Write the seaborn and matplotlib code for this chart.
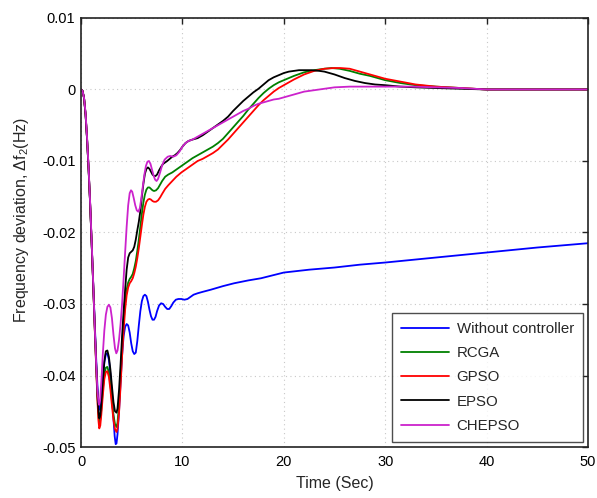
import numpy as np
import pandas as pd
import matplotlib
matplotlib.use("Agg")
import matplotlib.pyplot as plt
import seaborn as sns

# Frequency deviation of area 2 after a load disturbance, per controller tuning method
t_none = [0, 0.15, 0.3, 0.45, 0.6, 0.75, 0.9, 1.05, 1.2, 1.35, 1.5, 1.62, 1.72, 1.8, 1.9,
          2.0, 2.15, 2.3, 2.45, 2.6, 2.75, 2.9, 3.05, 3.2, 3.32, 3.42, 3.5, 3.6, 3.75, 3.9,
          4.05, 4.2, 4.35, 4.5, 4.65, 4.8, 4.95, 5.1, 5.25, 5.4, 5.55, 5.7, 5.85, 6.0, 6.15,
          6.3, 6.45, 6.6, 6.75, 6.9, 7.05, 7.2, 7.35, 7.5, 7.7, 7.9, 8.1, 8.3, 8.5, 8.7, 8.9,
          9.1, 9.35, 9.6, 9.9, 10.2, 10.5, 10.8, 11.1, 11.5, 12, 12.8, 14, 15.1, 16.5, 17.75,
          20, 22.5, 25, 27.5, 30, 35, 40, 45, 50]
f_none = [0, -0.0002, -0.0012, -0.0035, -0.0070, -0.0112, -0.0160, -0.0215, -0.0270, -0.0325,
          -0.0378, -0.0415, -0.0438, -0.0448, -0.0445, -0.0432, -0.0405, -0.0382, -0.0370,
          -0.0369, -0.0378, -0.0398, -0.0428, -0.0460, -0.0485, -0.0496, -0.0495, -0.0482,
          -0.0450, -0.0410, -0.0372, -0.0345, -0.0332, -0.0328, -0.0330, -0.0340, -0.0355,
          -0.0366, -0.0370, -0.0368, -0.0352, -0.0330, -0.0310, -0.0296, -0.0289, -0.0287,
          -0.0289, -0.0297, -0.0308, -0.0317, -0.0322, -0.0322, -0.0318, -0.0310, -0.0302,
          -0.0299, -0.0300, -0.0304, -0.0307, -0.0307, -0.0303, -0.0298, -0.0294, -0.0293,
          -0.0293, -0.0294, -0.0293, -0.0290, -0.0287, -0.0285, -0.0283, -0.0280, -0.0275,
          -0.0271, -0.0267, -0.0264, -0.0256, -0.0252, -0.0249, -0.0245, -0.0242, -0.0235,
          -0.0228, -0.0221, -0.0215]

t_rcga = [0, 0.15, 0.3, 0.45, 0.6, 0.75, 0.9, 1.05, 1.2, 1.35, 1.5, 1.62, 1.72, 1.8, 1.9,
          2.0, 2.15, 2.3, 2.45, 2.6, 2.75, 2.9, 3.05, 3.2, 3.35, 3.5, 3.6, 3.75, 3.9, 4.05,
          4.2, 4.35, 4.5, 4.65, 4.8, 4.95, 5.1, 5.25, 5.4, 5.55, 5.7, 5.85, 6.0, 6.15, 6.3,
          6.45, 6.6, 6.75, 6.9, 7.05, 7.2, 7.4, 7.6, 7.8, 8.0, 8.3, 8.6, 9.0, 9.4, 9.9, 10.4,
          11, 11.5, 12, 12.5, 13, 13.5, 14, 14.5, 15, 15.5, 16, 16.5, 17, 17.5, 18, 18.5,
          19, 19.5, 20, 21, 22, 23, 24, 24.7, 25.5, 26.5, 27.5, 28.5, 30, 31.5, 33, 35,
          37.5, 40, 45, 50]
f_rcga = [0, -0.0002, -0.0012, -0.0035, -0.0070, -0.0112, -0.0160, -0.0215, -0.0272, -0.0332,
          -0.0388, -0.0430, -0.0456, -0.0466, -0.0462, -0.0448, -0.0420, -0.0398, -0.0389,
          -0.0388, -0.0396, -0.0413, -0.0435, -0.0455, -0.0468, -0.0472, -0.0466, -0.0440,
          -0.0400, -0.0360, -0.0325, -0.0298, -0.0280, -0.0270, -0.0265, -0.0262, -0.0258,
          -0.0250, -0.0240, -0.0226, -0.0210, -0.0192, -0.0174, -0.0158, -0.0147, -0.0140,
          -0.0137, -0.0137, -0.0139, -0.0141, -0.0142, -0.0141, -0.0138, -0.0133, -0.0128,
          -0.0122, -0.0119, -0.0116, -0.0112, -0.0107, -0.0102, -0.0096, -0.0092, -0.0088,
          -0.0084, -0.0080, -0.0075, -0.0069, -0.0061, -0.0053, -0.0045, -0.0037, -0.0028,
          -0.0020, -0.0012, -0.0005, 0.0001, 0.0006, 0.0010, 0.0013, 0.0019, 0.0024, 0.0027,
          0.0029, 0.0030, 0.0029, 0.0026, 0.0022, 0.0019, 0.0013, 0.0009, 0.0006, 0.0004,
          0.0002, 0.0, 0.0, 0.0]

t_gpso = [0, 0.15, 0.3, 0.45, 0.6, 0.75, 0.9, 1.05, 1.2, 1.35, 1.5, 1.62, 1.72, 1.8, 1.9,
          2.0, 2.15, 2.3, 2.45, 2.6, 2.75, 2.9, 3.05, 3.2, 3.35, 3.5, 3.6, 3.75, 3.9, 4.05,
          4.2, 4.35, 4.5, 4.65, 4.8, 4.95, 5.1, 5.25, 5.4, 5.55, 5.7, 5.85, 6.0, 6.15, 6.3,
          6.45, 6.6, 6.75, 6.9, 7.05, 7.2, 7.4, 7.6, 7.8, 8.0, 8.3, 8.6, 9.0, 9.4, 9.9, 10.4,
          11, 11.5, 12, 12.5, 13, 13.5, 14, 14.5, 15, 15.5, 16, 16.5, 17, 17.5, 18, 18.5,
          19, 19.5, 20, 21, 22, 23, 24, 25, 25.6, 26.5, 27.5, 28.5, 30, 31.5, 33, 35, 37.5,
          40, 45, 50]
f_gpso = [0, -0.0002, -0.0012, -0.0035, -0.0070, -0.0112, -0.0160, -0.0215, -0.0272, -0.0333,
          -0.0390, -0.0435, -0.0463, -0.0474, -0.0470, -0.0455, -0.0428, -0.0405, -0.0395,
          -0.0394, -0.0402, -0.0420, -0.0442, -0.0462, -0.0475, -0.0479, -0.0474, -0.0452,
          -0.0415, -0.0373, -0.0337, -0.0308, -0.0288, -0.0277, -0.0271, -0.0268, -0.0264,
          -0.0257, -0.0248, -0.0236, -0.0222, -0.0206, -0.0190, -0.0175, -0.0164, -0.0157,
          -0.0154, -0.0153, -0.0154, -0.0156, -0.0157, -0.0157, -0.0155, -0.0151, -0.0146,
          -0.0139, -0.0134, -0.0128, -0.0122, -0.0116, -0.0111, -0.0105, -0.0100, -0.0097,
          -0.0093, -0.0089, -0.0084, -0.0077, -0.0070, -0.0062, -0.0054, -0.0046, -0.0038,
          -0.0030, -0.0022, -0.0015, -0.0009, -0.0003, 0.0002, 0.0006, 0.0014, 0.0021,
          0.0026, 0.0029, 0.0030, 0.0030, 0.0029, 0.0025, 0.0021, 0.0015, 0.0011, 0.0007,
          0.0004, 0.0002, 0.0, 0.0, 0.0]

t_epso = [0, 0.15, 0.3, 0.45, 0.6, 0.75, 0.9, 1.05, 1.2, 1.35, 1.5, 1.62, 1.72, 1.8, 1.9,
          2.0, 2.15, 2.3, 2.45, 2.6, 2.75, 2.9, 3.05, 3.2, 3.35, 3.5, 3.6, 3.75, 3.9, 4.05,
          4.2, 4.35, 4.5, 4.65, 4.8, 4.95, 5.1, 5.25, 5.4, 5.55, 5.7, 5.85, 6.0, 6.15, 6.3,
          6.45, 6.6, 6.75, 6.9, 7.05, 7.2, 7.35, 7.5, 7.7, 7.9, 8.1, 8.3, 8.5, 8.75, 9.0,
          9.25, 9.5, 9.75, 10.0, 10.3, 10.6, 11.0, 11.5, 12, 12.5, 13, 13.5, 14, 14.5, 15,
          15.5, 16, 16.5, 17, 17.5, 18, 18.5, 19, 19.5, 20, 20.5, 21, 21.5, 22, 22.7, 23.5,
          24, 25, 26, 27, 28, 29, 30, 31.5, 33, 35, 37.5, 40, 45, 50]
f_epso = [0, -0.0002, -0.0012, -0.0035, -0.0070, -0.0112, -0.0160, -0.0215, -0.0272, -0.0330,
          -0.0385, -0.0425, -0.0450, -0.0460, -0.0456, -0.0440, -0.0408, -0.0380, -0.0366,
          -0.0365, -0.0374, -0.0392, -0.0415, -0.0437, -0.0450, -0.0452, -0.0446, -0.0420,
          -0.0385, -0.0345, -0.0310, -0.0280, -0.0252, -0.0235, -0.0229, -0.0227, -0.0225,
          -0.0220, -0.0210, -0.0197, -0.0185, -0.0170, -0.0150, -0.0132, -0.0118, -0.0111,
          -0.0109, -0.0111, -0.0115, -0.0119, -0.0121, -0.0121, -0.0119, -0.0113, -0.0108,
          -0.0104, -0.0102, -0.0100, -0.0097, -0.0094, -0.0092, -0.0089, -0.0085, -0.0080,
          -0.0075, -0.0072, -0.0070, -0.0068, -0.0064, -0.0059, -0.0054, -0.0049, -0.0044,
          -0.0038, -0.0030, -0.0023, -0.0016, -0.0010, -0.0004, 0.0001, 0.0007, 0.0013,
          0.0017, 0.0020, 0.0023, 0.0025, 0.0026, 0.0027, 0.0027, 0.0027, 0.0026, 0.0025,
          0.0021, 0.0016, 0.0012, 0.0009, 0.0007, 0.0006, 0.0004, 0.0003, 0.0002, 0.0001,
          0.0, 0.0, 0.0]

t_chepso = [0, 0.15, 0.3, 0.45, 0.6, 0.75, 0.9, 1.05, 1.2, 1.35, 1.5, 1.62, 1.72, 1.78, 1.88,
            2.0, 2.15, 2.3, 2.45, 2.6, 2.75, 2.9, 3.05, 3.2, 3.35, 3.48, 3.6, 3.75, 3.9, 4.05,
            4.2, 4.35, 4.5, 4.65, 4.8, 4.93, 5.05, 5.2, 5.35, 5.5, 5.65, 5.8, 5.95, 6.1, 6.25,
            6.4, 6.55, 6.7, 6.85, 7.0, 7.15, 7.3, 7.45, 7.6, 7.8, 8.0, 8.25, 8.55, 8.8, 9.1,
            9.4, 9.7, 10.0, 10.3, 10.6, 11.0, 11.5, 12, 12.5, 13, 13.5, 14, 14.5, 15, 15.5,
            16, 16.5, 17, 17.5, 18, 18.5, 19, 19.5, 20, 21, 22, 23, 24, 25, 26.5, 28, 30,
            32.5, 35, 37.5, 40, 45, 50]
f_chepso = [0, -0.0002, -0.0012, -0.0033, -0.0068, -0.0110, -0.0158, -0.0212, -0.0270,
            -0.0330, -0.0385, -0.0422, -0.0437, -0.0441, -0.0435, -0.0410, -0.0370, -0.0337,
            -0.0315, -0.0304, -0.0301, -0.0305, -0.0320, -0.0343, -0.0362, -0.0369, -0.0365,
            -0.0350, -0.0328, -0.0300, -0.0265, -0.0228, -0.0192, -0.0162, -0.0145, -0.0141,
            -0.0143, -0.0152, -0.0162, -0.0169, -0.0171, -0.0166, -0.0152, -0.0135, -0.0119,
            -0.0107, -0.0101, -0.0100, -0.0104, -0.0112, -0.0120, -0.0126, -0.0128, -0.0125,
            -0.0116, -0.0106, -0.0098, -0.0094, -0.0093, -0.0094, -0.0092, -0.0087, -0.0080,
            -0.0075, -0.0072, -0.0070, -0.0066, -0.0062, -0.0058, -0.0054, -0.0050, -0.0046,
            -0.0042, -0.0038, -0.0034, -0.0030, -0.0027, -0.0023, -0.0020, -0.0018, -0.0016,
            -0.0014, -0.0013, -0.0011, -0.0007, -0.0003, -0.0001, 0.0001, 0.0003, 0.0004,
            0.0004, 0.0004, 0.0004, 0.0003, 0.0002, 0.0, 0.0, 0.0]

series_names = ["Without controller", "RCGA", "GPSO", "EPSO", "CHEPSO"]
series_t = [t_none, t_rcga, t_gpso, t_epso, t_chepso]
series_f = [f_none, f_rcga, f_gpso, f_epso, f_chepso]
colors = ["#0000ff", "#008000", "#ff0000", "#000000", "#cc22cc"]

df = pd.concat(
    [pd.DataFrame({"t": t, "f": f, "method": name})
     for name, t, f in zip(series_names, series_t, series_f)],
    ignore_index=True,
)

sns.set_theme(style="white")
plt.rcParams["font.family"] = ["Liberation Sans", "DejaVu Sans"]
plt.rcParams["mathtext.fontset"] = "custom"
plt.rcParams["mathtext.rm"] = "Liberation Sans"
plt.rcParams["mathtext.it"] = "Liberation Sans:italic"

fig = plt.figure(figsize=(5.97, 4.98), dpi=100)
ax = fig.add_axes([0.1357, 0.1024, 0.985 - 0.1357, 0.9639 - 0.1024])

sns.lineplot(data=df, x="t", y="f", hue="method", hue_order=series_names,
             palette=colors, sort=False, estimator=None, linewidth=1.3, ax=ax)

ax.set_xlim(0, 50)
ax.set_ylim(-0.05, 0.01)
ax.set_xticks([0, 10, 20, 30, 40, 50])
ax.set_yticks([-0.05, -0.04, -0.03, -0.02, -0.01, 0, 0.01])
ax.set_yticklabels(["-0.05", "-0.04", "-0.03", "-0.02", "-0.01", "0", "0.01"])
ax.grid(True, color="#c8c8c8", linestyle=(0, (1, 3)), linewidth=0.8)
ax.tick_params(direction="in", length=4, width=1, colors="#222222", labelsize=10.5,
               top=True, right=True, labelcolor="black")
ax.tick_params(axis="x", pad=6)
ax.tick_params(axis="y", pad=4)
for sp in ax.spines.values():
    sp.set_color("#222222")
    sp.set_linewidth(1.2)

ax.set_xlabel("Time (Sec)", fontsize=11.5, labelpad=5)
ax.set_ylabel(r"Frequency deviation, $\Delta$f$_2$(Hz)", fontsize=11.5, labelpad=5)
ax.yaxis.set_label_coords(-0.099, 0.53)

leg = ax.legend(loc="lower right", fontsize=10.8, frameon=True, fancybox=False,
                edgecolor="#222222", handlelength=3.2, borderaxespad=0.35,
                labelspacing=0.68, borderpad=0.6, handletextpad=0.5)
leg.get_frame().set_linewidth(1.0)
leg.set_title(None)

fig.savefig("out.png", dpi=100)
